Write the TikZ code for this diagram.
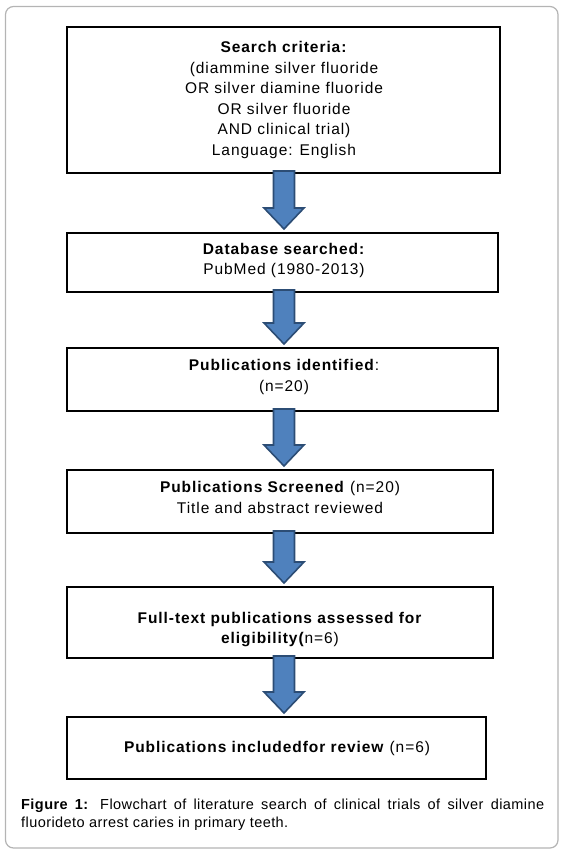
\documentclass[tikz,border=0pt]{standalone}
\usepackage{fontspec}
\setmainfont{Liberation Sans}
\usetikzlibrary{calc}
\definecolor{arrowfill}{HTML}{4F81BD}
\definecolor{arrowedge}{HTML}{2C4D75}
\definecolor{framegray}{HTML}{B4B4B4}
\tikzset{
  stepbox/.style={draw=black, line width=2pt, fill=white, inner sep=0pt},
  boxtext/.style={inner sep=0pt, align=center,
    font=\fontsize{15.5}{20.5}\selectfont\addfontfeature{LetterSpace=6}},
  barrow/.style={fill=arrowfill, draw=arrowedge, line width=1.6pt, line join=miter},
}
\begin{document}
\begin{tikzpicture}[x=1pt,y=-1pt]
\useasboundingbox (0,0) rectangle (566,856);
\draw[framegray, line width=1.2pt, rounded corners=8pt] (5.5,6.5) rectangle (558,848);

\node[stepbox, minimum width=433pt, minimum height=146pt] (b1) at (283.5,100) {};
\node[stepbox, minimum width=431pt, minimum height=59pt] (b2) at (282.5,262.5) {};
\node[stepbox, minimum width=431pt, minimum height=63pt] (b3) at (282.5,379.5) {};
\node[stepbox, minimum width=426pt, minimum height=63pt] (b4) at (280,501.5) {};
\node[stepbox, minimum width=426pt, minimum height=71pt] (b5) at (280,622.5) {};
\node[stepbox, minimum width=419pt, minimum height=62pt] (b6) at (276.5,748) {};

\node[boxtext] (t1) at (284,100)
  {\textbf{Search criteria:}\\(diammine silver fluoride\\OR silver diamine fluoride\\OR silver fluoride\\AND clinical trial)\\Language: English};
\node[boxtext] (t2) at (284,260.5) {\textbf{Database searched:}\\PubMed (1980-2013)};
\node[boxtext] (t3) at (284,377) {\textbf{Publications identified}:\\(n=20)};
\node[boxtext] (t4) at (280,497.5) {\textbf{Publications Screened} (n=20)\\Title and abstract reviewed};
\node[boxtext] (t5) at (280,629.5) {\textbf{Full-text publications assessed for}\\\textbf{eligibility(}n=6)};
\node[boxtext] (t6) at (277,748.5) {\textbf{Publications includedfor review} (n=6)};

\foreach \a/\b in {b1/b2,b2/b3,b3/b4,b4/b5,b5/b6}{
  \draw[barrow] let \p1=(\a.south), \p2=(\b.north) in
    (284-10.5,\y1+3pt) -- (284-10.5,\y2+24pt) -- (284-20,\y2+24pt) -- (284,\y2+3pt)
    -- (284+20,\y2+24pt) -- (284+10.5,\y2+24pt) -- (284+10.5,\y1+3pt) -- cycle;
}

\node[anchor=north west, text width=523pt, align=justify, inner sep=0pt,
  font=\fontsize{14.5}{18}\selectfont\addfontfeature{LetterSpace=3}] (cap) at (21,798.5)
  {\textbf{Figure 1:} Flowchart of literature search of clinical trials of silver diamine\linebreak fluorideto arrest caries in primary teeth.};
\end{tikzpicture}
\end{document}
